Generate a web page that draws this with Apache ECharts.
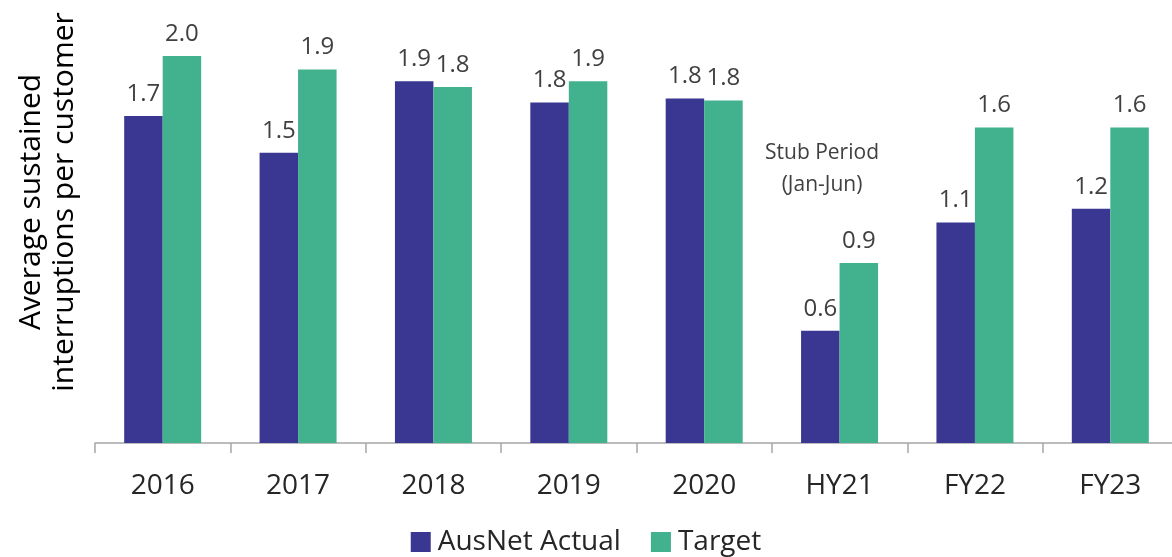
<!DOCTYPE html>
<html>
<head>
<meta charset="utf-8">
<script src="https://cdn.jsdelivr.net/npm/echarts@6/dist/echarts.min.js"></script>
<style>
html,body{margin:0;padding:0;background:#fff;}
#chart{width:1172px;height:557px;}
</style>
</head>
<body>
<div id="chart"></div>
<script>
const categories = ['2016', '2017', '2018', '2019', '2020', 'HY21', 'FY22', 'FY23'];
const actualValues = [1.69, 1.50, 1.87, 1.76, 1.78, 0.58, 1.14, 1.21];
const targetValues = [2.00, 1.93, 1.84, 1.87, 1.77, 0.93, 1.63, 1.63];
const seriesNames = ['AusNet Actual', 'Target'];
const yTitle = 'Average sustained\ninterruptions per customer';
const noteText = 'Stub Period\n(Jan-Jun)';

const FONT = '"Open Sans", "Noto Sans", sans-serif';
const chart = echarts.init(document.getElementById('chart'));

const labelStyle = {
  show: true,
  position: 'top',
  distance: 10,
  fontFamily: FONT,
  fontSize: 24,
  color: '#404040',
  formatter: p => p.value.toFixed(1)
};

chart.setOption({
  animation: false,
  backgroundColor: '#ffffff',
  grid: {
    left: 95,
    right: -6,
    top: 17.3,
    bottom: 114,
    outerBoundsMode: 'none'
  },
  legend: {
    data: seriesNames,
    left: 'center',
    top: 528,
    padding: 0,
    itemWidth: 20,
    itemHeight: 20,
    itemGap: 30,
    icon: 'rect',
    textStyle: { fontFamily: FONT, fontSize: 28, lineHeight: 28, color: '#262626', padding: [0, 0, 0, 2] }
  },
  xAxis: {
    type: 'category',
    data: categories,
    axisLine: { show: true, lineStyle: { color: '#A6A6A6', width: 1.5 } },
    axisTick: { show: true, length: 10, lineStyle: { color: '#A6A6A6', width: 1.5 } },
    axisLabel: { fontFamily: FONT, fontSize: 28, color: '#262626', margin: 29 }
  },
  yAxis: {
    type: 'value',
    min: 0,
    max: 2.2,
    show: false,
    splitLine: { show: false }
  },
  series: [
    {
      name: seriesNames[0],
      type: 'bar',
      data: actualValues,
      itemStyle: { color: '#3A3792' },
      barWidth: 38.5,
      barGap: '0%',
      label: labelStyle
    },
    {
      name: seriesNames[1],
      type: 'bar',
      data: targetValues,
      itemStyle: { color: '#41B18E' },
      barWidth: 38.5,
      barGap: '0%',
      label: labelStyle
    }
  ],
  graphic: [
    {
      type: 'text',
      x: 48,
      y: 202,
      rotation: Math.PI / 2,
      style: {
        text: yTitle,
        fontFamily: FONT,
        fontSize: 30,
        lineHeight: 33,
        fill: '#000000',
        align: 'center',
        verticalAlign: 'middle'
      }
    },
    {
      type: 'text',
      x: 822,
      y: 169,
      style: {
        text: noteText,
        fontFamily: FONT,
        fontSize: 21,
        lineHeight: 32,
        fill: '#404040',
        align: 'center',
        verticalAlign: 'middle'
      }
    }
  ]
});
</script>
</body>
</html>
